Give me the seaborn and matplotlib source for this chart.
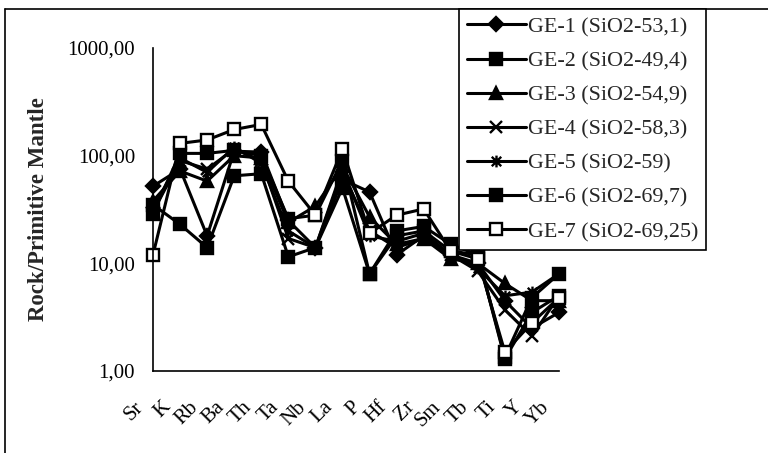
import numpy as np
import pandas as pd
import matplotlib
matplotlib.use("Agg")
import matplotlib.pyplot as plt
from matplotlib.path import Path
from matplotlib.lines import Line2D
from matplotlib.ticker import FixedLocator, FixedFormatter, NullLocator
from matplotlib.transforms import ScaledTranslation
import seaborn as sns

elements = ["Sr", "K", "Rb", "Ba", "Th", "Ta", "Nb", "La", "P", "Hf", "Zr", "Sm", "Tb", "Ti", "Y", "Yb"]
names = ["GE-1 (SiO2-53,1)", "GE-2 (SiO2-49,4)", "GE-3 (SiO2-54,9)", "GE-4 (SiO2-58,3)",
         "GE-5 (SiO2-59)", "GE-6 (SiO2-69,7)", "GE-7 (SiO2-69,25)"]
ge1 = [52, 75, 18, 110, 108, 25, 14, 60, 46, 12, 18, 12, 10, 4.5, 2.5, 3.5]
ge2 = [35, 23, 14, 65, 68, 11.5, 14, 50, 8, 18, 20, 13, 12, 1.3, 3.5, 5.0]
ge3 = [38, 72, 58, 100, 95, 24, 34, 80, 27, 15, 17, 11, 10, 6.5, 4.5, 4.5]
ge4 = [30, 90, 75, 115, 90, 17, 14, 70, 20, 14, 17, 12, 8.5, 3.7, 2.1, 5.0]
ge5 = [32, 95, 70, 120, 85, 20, 14, 75, 18, 16, 19, 12, 9, 5.0, 5.4, 8.0]
ge6 = [29, 105, 105, 112, 100, 26, 28, 90, 8, 20, 22, 15, 12, 1.35, 4.8, 8.0]
ge7 = [12, 130, 140, 175, 195, 58, 28, 115, 19, 28, 32, 13, 11, 1.5, 2.8, 4.8]
series = [ge1, ge2, ge3, ge4, ge5, ge6, ge7]
ytick_vals = [1, 10, 100, 1000]
ytick_labels = ["1,00", "10,00", "100,00", "1000,00"]

sns.set_style("white")
plt.rcParams["font.family"] = ["Liberation Serif", "DejaVu Serif"]

star = Path([(-1, -1), (1, 1), (-1, 1), (1, -1), (0, -1.25), (0, 1.25)],
            [Path.MOVETO, Path.LINETO, Path.MOVETO, Path.LINETO, Path.MOVETO, Path.LINETO])
styles = [("D", "black", 7.5), ("s", "black", 8.5), ("^", "black", 9), ("x", "black", 8.5),
          (star, "black", 8.5), ("s", "black", 8.5), ("s", "white", 8.5)]

fig = plt.figure(figsize=(7.68, 4.53), dpi=100)
ax = fig.add_axes([153 / 768, 1 - 371 / 453, 406 / 768, 323 / 453])

for vals, (mk, mfc, ms) in zip(series, styles):
    df = pd.DataFrame({"x": np.arange(len(elements)), "y": vals})
    sns.lineplot(data=df, x="x", y="y", ax=ax, color="black", linewidth=2.2,
                 marker=mk, markersize=ms, markerfacecolor=mfc, markeredgecolor="black",
                 markeredgewidth=1.7, clip_on=False, legend=False)

ax.set_yscale("log")
ax.set_ylim(1, 1000)
ax.set_xlim(0, len(elements) - 1)
ax.yaxis.set_major_locator(FixedLocator(ytick_vals))
ax.yaxis.set_major_formatter(FixedFormatter(ytick_labels))
ax.yaxis.set_minor_locator(NullLocator())
ax.set_xticks(np.arange(len(elements)))
ax.set_xticklabels(elements, rotation=45, ha="right", rotation_mode="anchor")
ax.tick_params(axis="both", direction="out", length=7, width=1, color="black",
               labelsize=15, labelcolor="black")
ax.tick_params(axis="y", pad=6)
offset = ScaledTranslation(-0.19, -0.12, fig.dpi_scale_trans)
for lbl in ax.get_xticklabels():
    lbl.set_transform(lbl.get_transform() + offset)
for s in ["top", "right"]:
    ax.spines[s].set_visible(False)
for s in ["left", "bottom"]:
    ax.spines[s].set_color("black")
    ax.spines[s].set_linewidth(1.2)
ax.set_xlabel("")
ax.set_ylabel("Rock/Primitive Mantle", fontweight="bold", fontsize=16.5)
ax.yaxis.set_label_coords(-0.255, 0.5)

handles = ax.get_lines()[:len(names)]
leg = fig.legend(handles, names, loc="upper left", bbox_to_anchor=(459 / 768, 1 - 9 / 453),
                 frameon=True, fancybox=False, edgecolor="black", framealpha=1,
                 handlelength=2.7, fontsize=15.8, labelspacing=0.63, borderpad=0.35,
                 handletextpad=0.1, borderaxespad=0)
leg.get_frame().set_linewidth(1.2)

fig.add_artist(Line2D([5 / 768, 5 / 768], [0, 1 - 9 / 453], color="black", lw=1.2))
fig.add_artist(Line2D([5 / 768, 1], [1 - 9 / 453, 1 - 9 / 453], color="black", lw=1.2))

fig.savefig("out.png", dpi=100)
